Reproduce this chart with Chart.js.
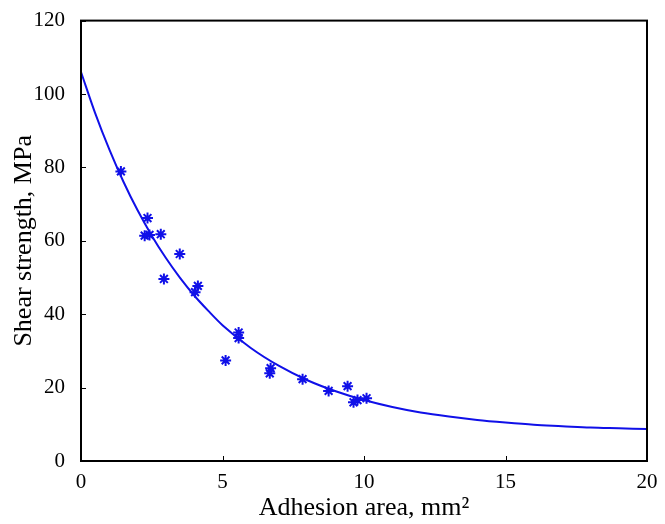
<!DOCTYPE html>
<html>
<head>
<meta charset="utf-8">
<script src="https://cdn.jsdelivr.net/npm/chart.js@4.4.1/dist/chart.umd.min.js"></script>
<style>
  html, body { margin: 0; padding: 0; background: #fff; }
  #wrap { width: 665px; height: 524px; }
</style>
</head>
<body>
<div id="wrap"><canvas id="grafica" width="665" height="524"></canvas></div>
<script>
// Puntos medidos (área de adhesión en mm², resistencia en MPa)
const areaMedida = [1.41, 2.35, 2.25, 2.42, 2.82, 3.49, 2.93, 4.13, 4.03, 5.57, 5.57, 5.11, 6.7, 6.67, 7.83, 8.75, 9.42, 9.63, 9.77, 10.09];
const resistenciaMedida = [78.9, 66.2, 61.4, 61.6, 61.8, 56.4, 49.6, 47.7, 46.0, 35.0, 33.5, 27.4, 25.3, 23.9, 22.3, 19.1, 20.4, 16.0, 16.6, 17.1];

// Curva de ajuste
const areaCurva = [0, 0.5, 1, 1.5, 2, 2.5, 3, 3.5, 4, 4.5, 5, 6, 7, 8, 9, 10, 11, 12, 13, 14, 15, 16, 17, 18, 19, 20];
const resistenciaCurva = [106, 94.8, 84.9, 76.1, 68.3, 61.4, 55.3, 49.9, 45.1, 40.9, 37.0, 30.8, 25.9, 22.0, 19.0, 16.6, 14.7, 13.2, 12.1, 11.2, 10.5, 9.9, 9.5, 9.1, 8.9, 8.7];

const ticksX = [0, 5, 10, 15, 20];
const ticksY = [0, 20, 40, 60, 80, 100, 120];

const azul = '#1010e8';
const fuente = 'Liberation Serif, Times New Roman, serif';

// Marco y marcas hacia dentro, estilo MATLAB
const marco = {
    id: 'marco',
    afterDatasetsDraw(chart) {
        const { ctx, chartArea: a, scales } = chart;
        ctx.save();
        ctx.strokeStyle = '#000';
        ctx.lineWidth = 1;
        ticksX.forEach(v => {
            const x = Math.round(scales.x.getPixelForValue(v)) + 0.5;
            ctx.beginPath();
            ctx.moveTo(x, a.bottom);
            ctx.lineTo(x, a.bottom - 5);
            ctx.stroke();
        });
        ticksY.forEach(v => {
            const y = Math.round(scales.y.getPixelForValue(v)) + 0.5;
            ctx.beginPath();
            ctx.moveTo(a.left, y);
            ctx.lineTo(a.left + 5, y);
            ctx.stroke();
        });
        ctx.lineWidth = 2;
        ctx.strokeRect(a.left, a.top, a.right - a.left, a.bottom - a.top);
        ctx.restore();
    }
};

const ctx = document.getElementById('grafica').getContext('2d');
new Chart(ctx, {
    type: 'scatter',
    data: {
        datasets: [{
            label: 'Ajuste',
            data: areaCurva.map((x, i) => ({ x: x, y: resistenciaCurva[i] })),
            showLine: true,
            borderColor: azul,
            borderWidth: 2,
            pointRadius: 0,
            cubicInterpolationMode: 'monotone',
            fill: false
        }, {
            label: 'Medidas',
            data: areaMedida.map((x, i) => ({ x: x, y: resistenciaMedida[i] })),
            pointStyle: 'star',
            radius: 5.5,
            borderColor: azul,
            backgroundColor: azul,
            borderWidth: 2
        }]
    },
    options: {
        responsive: false,
        animation: false,
        layout: { padding: { top: 19, right: 18, left: 0, bottom: 0 } },
        plugins: {
            legend: { display: false },
            tooltip: { enabled: false }
        },
        scales: {
            x: {
                type: 'linear',
                min: 0,
                max: 20,
                afterBuildTicks: s => { s.ticks = ticksX.map(v => ({ value: v })); },
                afterFit: s => { s.height = 63; },
                grid: { display: false },
                border: { display: false },
                ticks: { color: '#000', font: { family: fuente, size: 21 }, padding: 1 },
                title: {
                    display: true,
                    text: 'Adhesion area, mm²',
                    color: '#000',
                    font: { family: fuente, size: 26 },
                    padding: { top: 2, bottom: 0 }
                }
            },
            y: {
                type: 'linear',
                min: 0,
                max: 120,
                afterBuildTicks: s => { s.ticks = ticksY.map(v => ({ value: v })); },
                afterFit: s => { s.width = 81; },
                grid: { display: false },
                border: { display: false },
                ticks: { color: '#000', font: { family: fuente, size: 21 }, padding: 8 },
                title: {
                    display: true,
                    text: 'Shear strength, MPa',
                    color: '#000',
                    font: { family: fuente, size: 26 },
                    padding: { top: 9, bottom: 0 }
                }
            }
        }
    },
    plugins: [marco]
});
</script>
</body>
</html>
